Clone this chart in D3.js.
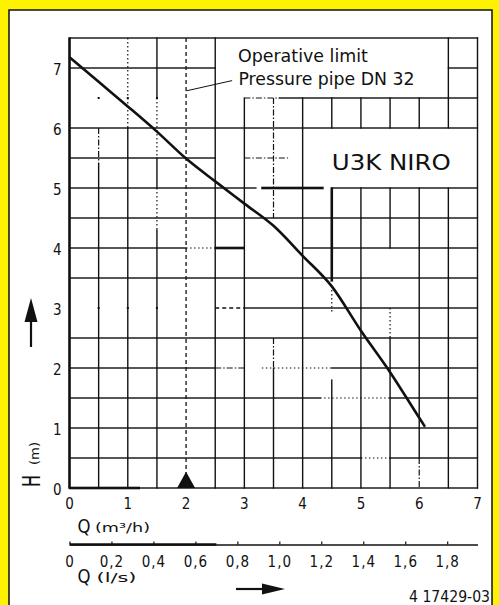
<!DOCTYPE html>
<html>
<head>
<meta charset="utf-8">
<script src="https://cdn.jsdelivr.net/npm/d3@7"></script>
<style>
  html, body { margin: 0; padding: 0; background: #fff200; }
  svg { display: block; }
  text { font-family: "DejaVu Sans Condensed", "Liberation Sans Narrow", "DejaVu Sans", sans-serif; fill: #111; }
</style>
</head>
<body>
<div id="chart"></div>
<script>
// Pump curve U3K NIRO, head H (m) against flow Q (m3/h)
const flowQ = [0, 0.5, 1, 1.5, 2, 2.5, 3, 3.5, 4, 4.5, 5, 5.5, 6, 6.1];
const headH = [7.18, 6.77, 6.36, 5.94, 5.49, 5.11, 4.74, 4.37, 3.87, 3.36, 2.62, 1.93, 1.17, 1.02];

const qTicks = [0, 1, 2, 3, 4, 5, 6, 7];
const hTicks = [0, 1, 2, 3, 4, 5, 6, 7];
const lsTicks = [0, 0.2, 0.4, 0.6, 0.8, 1.0, 1.2, 1.4, 1.6, 1.8];
const limitQ = 2;          // operative limit, pressure pipe DN 32
const m3hPerLs = 3.6;

const modelName = "U3K NIRO";
const limitLines = ["Operative limit", "Pressure pipe DN 32"];
const drawingNo = "4 17429-03";

// Grid as drawn on the sheet: [value, [[from, to, style], ...]]
const vGrid = [
    [0,   [[0, 7.5, "thick"]]],
    [0.5, [[0, 5.4, "solid"], [5.4, 6.0, "dashdot"]]],
    [1,   [[0, 6.0, "solid"], [6.0, 7.5, "dot"]]],
    [1.5, [[0, 4.3, "solid"], [4.3, 5.0, "dot"], [5.0, 5.5, "solid"], [5.5, 6.5, "dot"], [6.5, 7.5, "solid"]]],
    [2,   [[0, 7.5, "dash"]]],
    [2.5, [[0, 7.5, "solid"]]],
    [3,   [[0, 6.5, "solid"]]],
    [3.5, [[0, 2.0, "solid"], [2.0, 2.5, "dashdot"], [4.5, 6.5, "dashdot"]]],
    [4,   [[0, 6.5, "solid"]]],
    [4.5, [[0, 1.8, "solid"], [2.9, 3.3, "dot"], [3.45, 5.0, "thick"], [6.0, 6.5, "solid"]]],
    [5,   [[0, 5.0, "solid"], [6.0, 6.5, "solid"]]],
    [5.5, [[0, 2.5, "solid"], [2.5, 3.0, "dot"], [4.0, 5.0, "solid"], [6.0, 6.5, "solid"]]],
    [6,   [[0, 0.5, "dashdot"], [0.5, 5.0, "solid"], [6.0, 6.5, "solid"]]],
    [6.5, [[0, 5.0, "solid"], [6.0, 7.5, "solid"]]],
    [7,   [[0, 7.5, "solid"]]]
];
const hGrid = [
    [0,   [[0, 1.2, "thick"], [1.2, 7, "solid"]]],
    [0.5, [[0, 5.0, "solid"], [5.0, 5.5, "dot"], [5.5, 7, "solid"]]],
    [1,   [[0, 7, "solid"]]],
    [1.5, [[0, 4.3, "solid"], [4.3, 5.5, "dot"], [5.5, 7, "solid"]]],
    [2,   [[0, 2.5, "solid"], [2.5, 3.0, "dashdot"], [3.3, 4.5, "dot"], [4.5, 7, "solid"]]],
    [2.5, [[0, 7, "solid"]]],
    [3,   [[2.5, 3.0, "dash"], [3.0, 7, "solid"]]],
    [3.5, [[0, 7, "solid"]]],
    [4,   [[0, 2.0, "solid"], [2.0, 2.5, "dot"], [2.5, 3.0, "thick"], [4.0, 7, "solid"]]],
    [4.5, [[0, 7, "solid"]]],
    [5,   [[0, 3.2, "solid"], [3.3, 4.35, "thick"], [4.5, 7, "solid"]]],
    [5.5, [[0, 2.5, "solid"], [3.0, 3.75, "dashdot"]]],
    [6,   [[0, 7, "solid"]]],
    [6.5, [[3.0, 3.6, "dashdot"], [3.6, 7, "solid"]]],
    [7,   [[0, 2.5, "solid"], [6.5, 7, "solid"]]],
    [7.5, [[0, 7, "solid"]]]
];
// leftover specks where grid lines were erased
const specks = [[0.5, 6.5], [1, 6.5], [1.5, 6.5], [0.5, 3], [1, 3], [1.5, 3]];

const lineStyles = {
    solid:   {w: 1.4, dash: null},
    thick:   {w: 2.6, dash: null},
    dot:     {w: 1.2, dash: "1.5,2.5"},
    dashdot: {w: 1.2, dash: "6,2,1.5,2"},
    dash:    {w: 1.3, dash: "4,3"}
};

const W = 499, H = 605;

const svg = d3.select("#chart")
    .append("svg")
    .attr("width", W)
    .attr("height", H);

// Sheet
svg.append("rect")
    .attr("x", 9).attr("y", 10)
    .attr("width", 483).attr("height", 600)
    .attr("fill", "#fff")
    .attr("stroke", "#111")
    .attr("stroke-width", 1.5);

// Scales
const x = d3.scaleLinear().domain([0, 7]).range([69.5, 477.5]);
const y = d3.scaleLinear().domain([0, 7.5]).range([488, 38]);
const xls = d3.scaleLinear().domain([0, 7 / m3hPerLs]).range([69.5, 477.5]);

// Grid segments, flattened to plain records
const gridSegs = [];
vGrid.forEach(([q, segs]) => segs.forEach(([h0, h1, st]) =>
    gridSegs.push({x1: x(q), y1: y(h1), x2: x(q), y2: y(h0), st: st})));
hGrid.forEach(([h, segs]) => segs.forEach(([q0, q1, st]) =>
    gridSegs.push({x1: x(q0), y1: y(h), x2: x(q1), y2: y(h), st: st})));

const grid = svg.append("g").attr("class", "grid");

// unbroken lines as filled bars
const solidSegs = gridSegs.filter(d => !lineStyles[d.st].dash);
grid.selectAll("rect.bar")
    .data(solidSegs)
    .enter().append("rect")
    .attr("class", "bar")
    .attr("x", d => d.x1 === d.x2 ? d.x1 - lineStyles[d.st].w / 2 : d.x1 - 0.6)
    .attr("y", d => d.y1 === d.y2 ? d.y1 - lineStyles[d.st].w / 2 : d.y1 - 0.6)
    .attr("width", d => d.x1 === d.x2 ? lineStyles[d.st].w : d.x2 - d.x1 + 1.2)
    .attr("height", d => d.y1 === d.y2 ? lineStyles[d.st].w : d.y2 - d.y1 + 1.2)
    .attr("fill", "#111");

// broken lines as dashed strokes
grid.selectAll("line")
    .data(gridSegs.filter(d => lineStyles[d.st].dash))
    .enter().append("line")
    .attr("x1", d => d.x1).attr("y1", d => d.y1)
    .attr("x2", d => d.x2).attr("y2", d => d.y2)
    .attr("stroke", "#111")
    .attr("stroke-width", d => lineStyles[d.st].w)
    .attr("stroke-dasharray", d => lineStyles[d.st].dash);

grid.selectAll("rect.speck")
    .data(specks)
    .enter().append("rect")
    .attr("class", "speck")
    .attr("x", d => x(d[0]) - 1).attr("y", d => y(d[1]) - 1)
    .attr("width", 2).attr("height", 2)
    .attr("fill", "#111");

// Pump curve
const line = d3.line()
    .x(d => x(d[0]))
    .y(d => y(d[1]))
    .curve(d3.curveMonotoneX);

svg.append("path")
    .datum(flowQ.map((q, i) => [q, headH[i]]))
    .attr("d", line)
    .attr("fill", "none")
    .attr("stroke", "#111")
    .attr("stroke-width", 2.6);

// Operative limit marker and leader
svg.append("path")
    .attr("d", `M${x(limitQ)},${y(0.27)} L${x(limitQ) + 9},${y(0)} L${x(limitQ) - 9},${y(0)} Z`)
    .attr("fill", "#111");

svg.append("line")
    .attr("x1", x(limitQ) + 0.5).attr("y1", y(6.62))
    .attr("x2", x(2.79)).attr("y2", y(6.79))
    .attr("stroke", "#111").attr("stroke-width", 1);

svg.append("text")
    .attr("x", x(2.89)).attr("y", y(7.1))
    .attr("font-size", 17)
    .attr("textLength", 130).attr("lengthAdjust", "spacingAndGlyphs")
    .text(limitLines[0]);

svg.append("text")
    .attr("x", x(2.9)).attr("y", y(6.71))
    .attr("font-size", 17)
    .attr("textLength", 176).attr("lengthAdjust", "spacingAndGlyphs")
    .text(limitLines[1]);

svg.append("text")
    .attr("x", x(4.5)).attr("y", y(5.3))
    .attr("font-size", 22)
    .attr("textLength", 119).attr("lengthAdjust", "spacingAndGlyphs")
    .text(modelName);

// Axes
function plainAxis(g) {
    g.attr("font-family", null).attr("font-size", null);
    g.selectAll("text").attr("font-size", 15).attr("fill", "#111").style("letter-spacing", "1px");
}

svg.append("g")
    .attr("transform", `translate(0,${y(0)})`)
    .call(d3.axisBottom(x).tickValues(qTicks).tickSize(0).tickPadding(10).tickFormat(d3.format("d")))
    .call(plainAxis)
    .call(g => g.select(".domain").remove());

svg.append("g")
    .attr("transform", `translate(${x(0)},0)`)
    .call(d3.axisLeft(y).tickValues(hTicks).tickSize(0).tickPadding(7).tickFormat(d3.format("d")))
    .call(plainAxis)
    .call(g => g.select(".domain").remove())
    .call(g => g.selectAll("text").attr("dy", "0.4em"));

const lsAxis = svg.append("g")
    .attr("transform", "translate(0,544.5)")
    .call(d3.axisBottom(xls).tickValues(lsTicks).tickSizeInner(-3).tickSizeOuter(0).tickPadding(12)
        .tickFormat(d => d === 0 ? "0" : d3.format(".1f")(d).replace(".", ",")))
    .call(plainAxis);
lsAxis.select(".domain").attr("stroke", "#111").attr("stroke-width", 1.6);
lsAxis.selectAll(".tick line").attr("stroke", "#111").attr("stroke-width", 1.2);
lsAxis.append("line")
    .attr("x1", xls(0)).attr("x2", xls(0.7))
    .attr("stroke", "#111").attr("stroke-width", 2.6);

// Axis titles
svg.append("text").attr("x", 77.5).attr("y", 532.5)
    .attr("font-size", 19).attr("textLength", 13).attr("lengthAdjust", "spacingAndGlyphs").text("Q");
svg.append("text").attr("x", 95).attr("y", 531.5)
    .attr("font-size", 12).attr("textLength", 55).attr("lengthAdjust", "spacingAndGlyphs").text("(m³/h)");

svg.append("text").attr("x", 77.5).attr("y", 583)
    .attr("font-size", 19).attr("textLength", 13).attr("lengthAdjust", "spacingAndGlyphs").text("Q");
svg.append("text").attr("x", 96.5).attr("y", 582)
    .attr("font-size", 12).attr("textLength", 40).attr("lengthAdjust", "spacingAndGlyphs").text("(l/s)");

svg.append("text").attr("transform", "translate(40,487) rotate(-90)")
    .attr("font-size", 24).attr("textLength", 12).attr("lengthAdjust", "spacingAndGlyphs").text("H");
svg.append("text").attr("transform", "translate(39,465) rotate(-90)")
    .attr("font-size", 13).attr("textLength", 23).attr("lengthAdjust", "spacingAndGlyphs").text("(m)");

// Direction arrows
svg.append("line").attr("x1", 31).attr("y1", 347).attr("x2", 31).attr("y2", 320)
    .attr("stroke", "#111").attr("stroke-width", 2.2);
svg.append("path").attr("d", "M31,298 L37.5,322 L24.5,322 Z").attr("fill", "#111");

svg.append("line").attr("x1", 236).attr("y1", 589).attr("x2", 263).attr("y2", 589)
    .attr("stroke", "#111").attr("stroke-width", 2.2);
svg.append("path").attr("d", "M285,589 L262,583.5 L262,594.5 Z").attr("fill", "#111");

// Drawing number
svg.append("text")
    .attr("x", 409).attr("y", 601.5)
    .attr("font-size", 15)
    .attr("textLength", 81).attr("lengthAdjust", "spacingAndGlyphs")
    .text(drawingNo);
</script>
</body>
</html>
